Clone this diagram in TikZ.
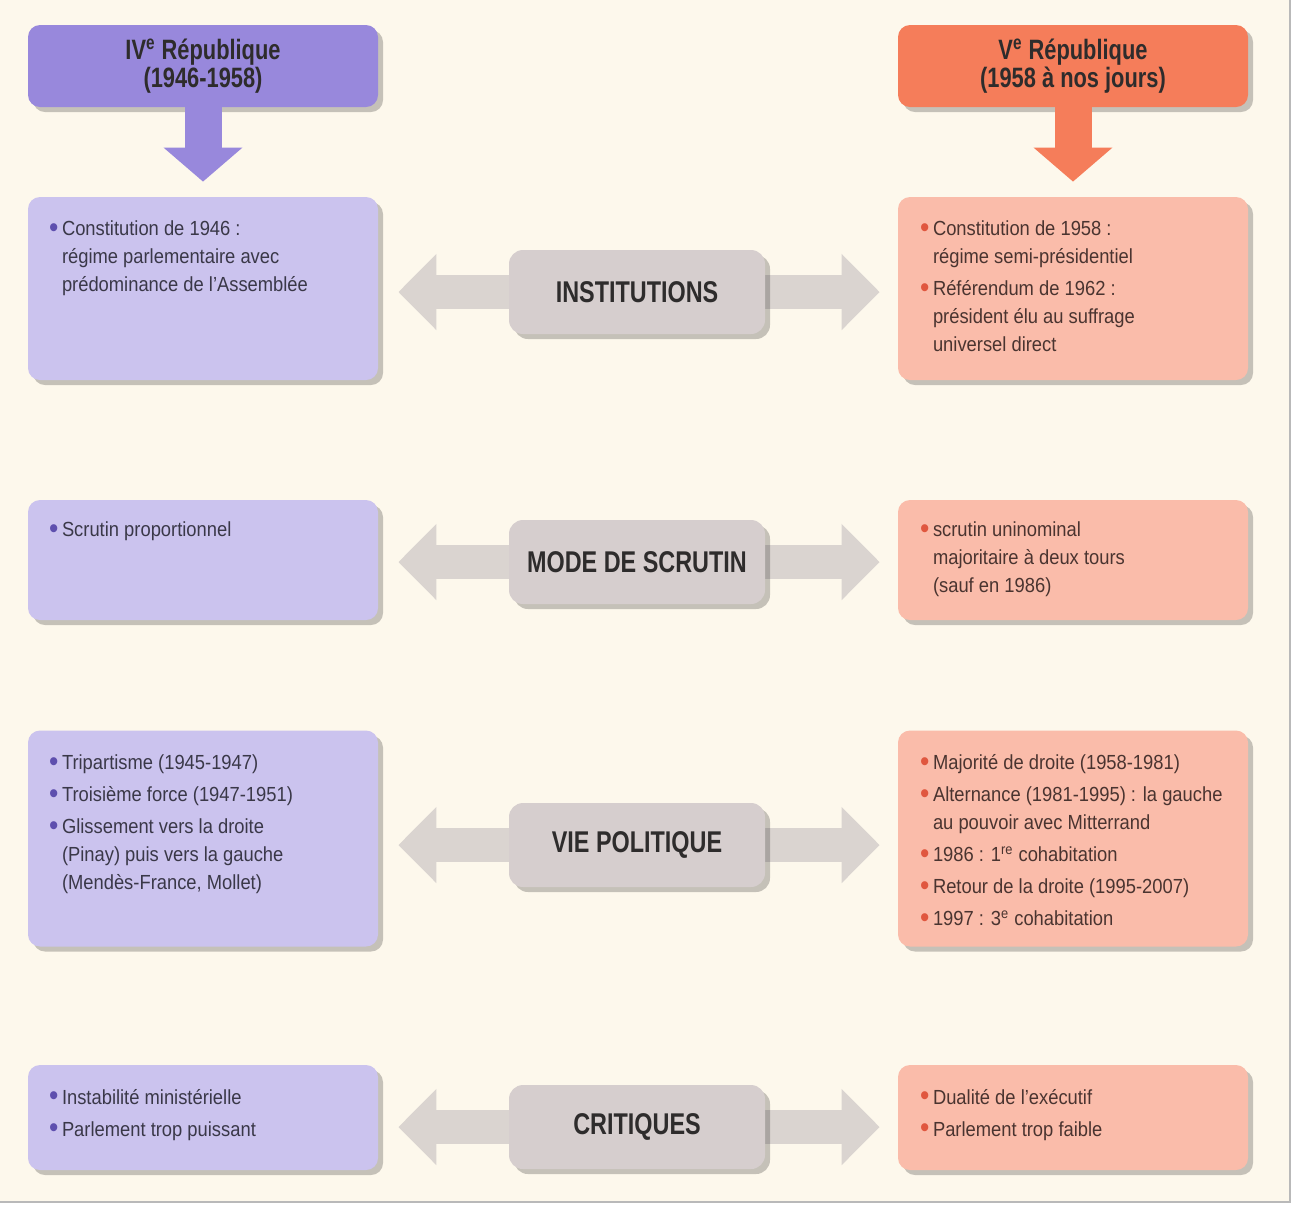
\documentclass[tikz,border=0pt]{standalone}
\usepackage{fontspec}
\setmainfont{Liberation Sans}[FakeStretch=0.9]
\newfontfamily\condfont{Liberation Sans}[FakeStretch=0.78]
\usetikzlibrary{arrows.meta,shadows}
\definecolor{creme}{HTML}{FDF8EC}
\definecolor{violetF}{HTML}{9888DC}
\definecolor{violetC}{HTML}{CBC3EE}
\definecolor{orangeF}{HTML}{F57D5A}
\definecolor{orangeC}{HTML}{FABCAA}
\definecolor{grisL}{HTML}{D6CECE}
\definecolor{grisF}{HTML}{DAD4D0}
\definecolor{puceV}{HTML}{5E4FAE}
\definecolor{puceR}{HTML}{E0573F}
\definecolor{encreL}{HTML}{3A3848}
\definecolor{encreR}{HTML}{4A3430}
\definecolor{encre}{HTML}{2E2C2C}
\tikzstyle{ombre}=[drop shadow={shadow xshift=2.5pt,shadow yshift=-2.5pt,opacity=0.22,fill=black}]
\tikzstyle{titreL}=[ombre,rounded corners=6pt,fill=violetF,minimum width=175pt,minimum height=41pt,align=center,text=encre,font=\condfont\bfseries\fontsize{14}{14}\selectfont]
\tikzstyle{titreR}=[titreL,fill=orangeF]
\tikzstyle{boiteL}=[ombre,rounded corners=6pt,fill=violetC,minimum width=175pt]
\tikzstyle{boiteR}=[boiteL,fill=orangeC]
\tikzstyle{texteL}=[anchor=north west,inner sep=0pt,align=left,text=encreL,font=\fontsize{10.2}{14}\selectfont]
\tikzstyle{texteR}=[texteL,text=encreR]
\tikzstyle{theme}=[ombre,rounded corners=7pt,fill=grisL,minimum width=128pt,minimum height=42pt,text=encre,font=\condfont\bfseries\fontsize{15}{15}\selectfont]
\tikzstyle{flecheL}=[line width=18.5pt,draw=violetF,-{Triangle[width=38.5pt,length=17pt]},shorten >=7.5pt]
\tikzstyle{flecheR}=[flecheL,draw=orangeF]
\tikzstyle{double}=[line width=17pt,draw=grisF,{Triangle[width=37pt,length=19pt]}-{Triangle[width=37pt,length=19pt]},shorten <=10pt,shorten >=9pt]
\newcommand{\puceL}{\makebox[6.5pt][l]{\raisebox{-0.9pt}{\textcolor{puceV}{\scalebox{1.45}{\textbullet}}}}}
\newcommand{\puceR}{\makebox[6.5pt][l]{\raisebox{-0.9pt}{\textcolor{puceR}{\scalebox{1.45}{\textbullet}}}}}
\newcommand{\retrait}{\hspace*{6.5pt}}

\begin{document}
\begin{tikzpicture}[x=0.5pt,y=-0.5pt]
    \useasboundingbox (0,0) rectangle (1294,1207);
    \fill[white] (0,0) rectangle (1294,1207);
    \fill[creme] (0,0) rectangle (1290,1202);
    \draw[gray!55,line width=1pt] (1290,0) -- (1290,1202) -- (0,1202);

    % en-tetes
    \node[titreL] (titreL) at (203,66)  {IV\textsuperscript{e} République\\(1946-1958)};
    \node[titreR] (titreR) at (1073,66) {V\textsuperscript{e} République\\(1958 à nos jours)};

    % cadres
    \node[boiteL,minimum height=91.5pt] (bL1) at (203,288.5)  {};
    \node[boiteR,minimum height=91.5pt] (bR1) at (1073,288.5) {};
    \node[boiteL,minimum height=60pt]   (bL2) at (203,560)    {};
    \node[boiteR,minimum height=60pt]   (bR2) at (1073,560)   {};
    \node[boiteL,minimum height=108pt]  (bL3) at (203,838.5)  {};
    \node[boiteR,minimum height=108pt]  (bR3) at (1073,838.5) {};
    \node[boiteL,minimum height=52.5pt] (bL4) at (203,1117.5) {};
    \node[boiteR,minimum height=52.5pt] (bR4) at (1073,1117.5) {};

    \draw[flecheL] (titreL.south) -- (bL1.north);
    \draw[flecheR] (titreR.south) -- (bR1.north);

    % themes
    \coordinate (m1) at (637,292);
    \coordinate (m2) at (637,562);
    \coordinate (m3) at (637,845);
    \coordinate (m4) at (637,1127);
    \draw[double] (m1 -| bL1.east) -- (m1 -| bR1.west);
    \draw[double] (m2 -| bL2.east) -- (m2 -| bR2.west);
    \draw[double] (m3 -| bL3.east) -- (m3 -| bR3.west);
    \draw[double] (m4 -| bL4.east) -- (m4 -| bR4.west);
    \node[theme] (th1) at (m1) {INSTITUTIONS};
    \node[theme] (th2) at (m2) {MODE DE SCRUTIN};
    \node[theme] (th3) at (m3) {VIE POLITIQUE};
    \node[theme] (th4) at (m4) {CRITIQUES};

    % textes
    \node[texteL] (tL1) at ([xshift=10.5pt,yshift=-12pt]bL1.north west) {\puceL Constitution de 1946 :\\\retrait régime parlementaire avec\\\retrait prédominance de l'Assemblée};
    \node[texteR] (tR1) at ([xshift=11pt,yshift=-12pt]bR1.north west) {\puceR Constitution de 1958 :\\\retrait régime semi-présidentiel\\[2pt]\puceR Référendum de 1962 :\\\retrait président élu au suffrage\\\retrait universel direct};
    \node[texteL] (tL2) at ([xshift=10.5pt,yshift=-11pt]bL2.north west) {\puceL Scrutin proportionnel};
    \node[texteR] (tR2) at ([xshift=11pt,yshift=-11pt]bR2.north west) {\puceR scrutin uninominal\\\retrait majoritaire à deux tours\\\retrait (sauf en 1986)};
    \node[texteL] (tL3) at ([xshift=10.5pt,yshift=-12pt]bL3.north west) {\puceL Tripartisme (1945-1947)\\[2pt]\puceL Troisième force (1947-1951)\\[2pt]\puceL Glissement vers la droite\\\retrait (Pinay) puis vers la gauche\\\retrait (Mendès-France, Mollet)};
    \node[texteR] (tR3) at ([xshift=11pt,yshift=-12pt]bR3.north west) {\puceR Majorité de droite (1958-1981)\\[2pt]\puceR Alternance (1981-1995) : la gauche\\\retrait au pouvoir avec Mitterrand\\[2pt]\puceR 1986 : 1\textsuperscript{re} cohabitation\\[2pt]\puceR Retour de la droite (1995-2007)\\[2pt]\puceR 1997 : 3\textsuperscript{e} cohabitation};
    \node[texteL] (tL4) at ([xshift=10.5pt,yshift=-12pt]bL4.north west) {\puceL Instabilité ministérielle\\[2pt]\puceL Parlement trop puissant};
    \node[texteR] (tR4) at ([xshift=11pt,yshift=-12pt]bR4.north west) {\puceR Dualité de l'exécutif\\[2pt]\puceR Parlement trop faible};
\end{tikzpicture}
\end{document}
